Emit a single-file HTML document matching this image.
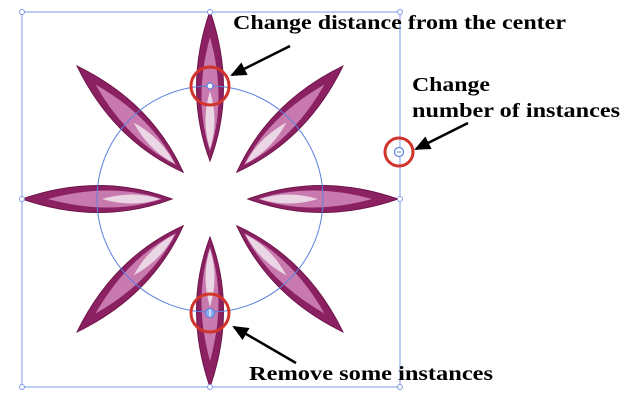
<!DOCTYPE html>
<html><head><meta charset="utf-8"><style>html,body{margin:0;padding:0;background:#fff}svg{display:block}</style></head>
<body>
<svg width="640" height="402" viewBox="0 0 640 402" xmlns="http://www.w3.org/2000/svg">
<defs>
<marker id="ah" markerWidth="16" markerHeight="14" refX="14" refY="7" orient="auto" markerUnits="userSpaceOnUse">
<path d="M0,0 L16,7 L0,14 Z" fill="#000"/>
</marker>
<g id="petal">
<path d="M0,-188 Q27,-110 0,-38 Q-27,-110 0,-188 Z" fill="#8b2162" stroke="#6e1549" stroke-width="1"/>
<path d="M0,-162 Q17,-100 0,-48 Q-17,-100 0,-162 Z" fill="#c87aae"/>
<path d="M0,-108 Q9,-78 0,-50 Q-9,-78 0,-108 Z" fill="#ead6e4"/>
</g>
</defs>
<rect x="22" y="12" width="378" height="375" fill="none" stroke="#7f9be8" stroke-width="1"/>
<g transform="translate(210,199)">
<use href="#petal"/>
<use href="#petal" transform="rotate(45)"/>
<use href="#petal" transform="rotate(90)"/>
<use href="#petal" transform="rotate(135)"/>
<use href="#petal" transform="rotate(180)"/>
<use href="#petal" transform="rotate(225)"/>
<use href="#petal" transform="rotate(270)"/>
<use href="#petal" transform="rotate(315)"/>
</g>
<circle cx="210" cy="199" r="113" fill="none" stroke="#5b7fe0" stroke-width="1"/>
<g fill="#fff" stroke="#7f9be8" stroke-width="1">
<circle cx="22" cy="12" r="2.5"/><circle cx="210" cy="12" r="2.5"/><circle cx="400" cy="12" r="2.5"/>
<circle cx="22" cy="199" r="2.5"/><circle cx="400" cy="199" r="2.5"/>
<circle cx="22" cy="387" r="2.5"/><circle cx="210" cy="387" r="2.5"/><circle cx="400" cy="387" r="2.5"/>
</g>
<circle cx="210" cy="86" r="3" fill="#fff" stroke="#5b7fe0" stroke-width="1.2"/>
<circle cx="210" cy="313" r="4.5" fill="#8fb0f0" stroke="#5b7fe0" stroke-width="1.2"/>
<line x1="210" y1="309" x2="210" y2="317" stroke="#fff" stroke-width="1"/>
<circle cx="399" cy="152" r="4.5" fill="#fff" stroke="#5b7fe0" stroke-width="1.2"/>
<line x1="397" y1="152" x2="401" y2="152" stroke="#5b7fe0" stroke-width="1"/>
<g fill="none" stroke="#d0342c" stroke-width="3">
<circle cx="210" cy="86" r="19"/>
<circle cx="210" cy="313" r="19"/>
<circle cx="399" cy="152" r="14"/>
</g>
<g stroke="#000" stroke-width="2.5" marker-end="url(#ah)">
<line x1="290" y1="46" x2="232" y2="75"/>
<line x1="468" y1="123" x2="416" y2="149"/>
<line x1="296" y1="363" x2="234" y2="327"/>
</g>
<g font-family="Liberation Serif, serif" font-weight="bold" font-size="20" fill="#000">
<text x="233" y="29" textLength="333" lengthAdjust="spacingAndGlyphs">Change distance from the center</text>
<text x="412" y="91" textLength="78" lengthAdjust="spacingAndGlyphs">Change</text>
<text x="412" y="117" textLength="208" lengthAdjust="spacingAndGlyphs">number of instances</text>
<text x="249" y="380" textLength="244" lengthAdjust="spacingAndGlyphs">Remove some instances</text>
</g>
</svg>
</body></html>
